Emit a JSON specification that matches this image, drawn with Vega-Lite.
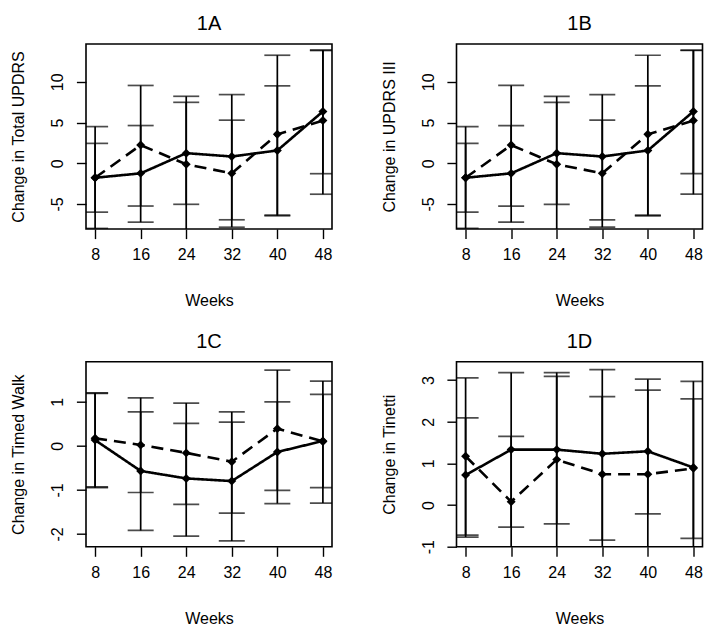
{
  "$schema": "https://vega.github.io/schema/vega-lite/v6.json",
  "background": "white",
  "padding": {"left": 9, "top": 13, "right": 5, "bottom": 5},
  "datasets": {
    "d": [
      {"panel": "A", "week": 8, "group": "solid", "mean": -1.78, "lower": -8.0, "upper": 4.5},
      {"panel": "A", "week": 8, "group": "dashed", "mean": -1.78, "lower": -6.0, "upper": 2.44},
      {"panel": "A", "week": 16, "group": "solid", "mean": -1.24, "lower": -7.23, "upper": 4.63},
      {"panel": "A", "week": 16, "group": "dashed", "mean": 2.23, "lower": -5.25, "upper": 9.55},
      {"panel": "A", "week": 24, "group": "solid", "mean": 1.24, "lower": -5.04, "upper": 7.48},
      {"panel": "A", "week": 24, "group": "dashed", "mean": -0.12, "lower": -8.6, "upper": 8.22},
      {"panel": "A", "week": 32, "group": "solid", "mean": 0.83, "lower": -6.94, "upper": 8.43},
      {"panel": "A", "week": 32, "group": "dashed", "mean": -1.24, "lower": -7.85, "upper": 5.29},
      {"panel": "A", "week": 40, "group": "solid", "mean": 1.57, "lower": -6.36, "upper": 9.5},
      {"panel": "A", "week": 40, "group": "dashed", "mean": 3.55, "lower": -6.45, "upper": 13.26},
      {"panel": "A", "week": 48, "group": "solid", "mean": 6.36, "lower": -1.28, "upper": 13.84},
      {"panel": "A", "week": 48, "group": "dashed", "mean": 5.25, "lower": -3.8, "upper": 13.9},
      {"panel": "B", "week": 8, "group": "solid", "mean": -1.78, "lower": -8.0, "upper": 4.5},
      {"panel": "B", "week": 8, "group": "dashed", "mean": -1.78, "lower": -6.0, "upper": 2.44},
      {"panel": "B", "week": 16, "group": "solid", "mean": -1.24, "lower": -7.23, "upper": 4.63},
      {"panel": "B", "week": 16, "group": "dashed", "mean": 2.23, "lower": -5.25, "upper": 9.55},
      {"panel": "B", "week": 24, "group": "solid", "mean": 1.24, "lower": -5.04, "upper": 7.48},
      {"panel": "B", "week": 24, "group": "dashed", "mean": -0.12, "lower": -8.6, "upper": 8.22},
      {"panel": "B", "week": 32, "group": "solid", "mean": 0.83, "lower": -6.94, "upper": 8.43},
      {"panel": "B", "week": 32, "group": "dashed", "mean": -1.24, "lower": -7.85, "upper": 5.29},
      {"panel": "B", "week": 40, "group": "solid", "mean": 1.57, "lower": -6.36, "upper": 9.5},
      {"panel": "B", "week": 40, "group": "dashed", "mean": 3.55, "lower": -6.45, "upper": 13.26},
      {"panel": "B", "week": 48, "group": "solid", "mean": 6.36, "lower": -1.28, "upper": 13.84},
      {"panel": "B", "week": 48, "group": "dashed", "mean": 5.25, "lower": -3.8, "upper": 13.9},
      {"panel": "C", "week": 8, "group": "solid", "mean": 0.13, "lower": -0.95, "upper": 1.19},
      {"panel": "C", "week": 8, "group": "dashed", "mean": 0.17, "lower": -0.93, "upper": 1.2},
      {"panel": "C", "week": 16, "group": "solid", "mean": -0.57, "lower": -1.92, "upper": 0.77},
      {"panel": "C", "week": 16, "group": "dashed", "mean": 0.02, "lower": -1.06, "upper": 1.09},
      {"panel": "C", "week": 24, "group": "solid", "mean": -0.74, "lower": -2.05, "upper": 0.51},
      {"panel": "C", "week": 24, "group": "dashed", "mean": -0.16, "lower": -1.33, "upper": 0.97},
      {"panel": "C", "week": 32, "group": "solid", "mean": -0.8, "lower": -2.16, "upper": 0.54},
      {"panel": "C", "week": 32, "group": "dashed", "mean": -0.36, "lower": -1.53, "upper": 0.77},
      {"panel": "C", "week": 40, "group": "solid", "mean": -0.14, "lower": -1.31, "upper": 1.0},
      {"panel": "C", "week": 40, "group": "dashed", "mean": 0.39, "lower": -1.01, "upper": 1.72},
      {"panel": "C", "week": 48, "group": "solid", "mean": 0.11, "lower": -1.3, "upper": 1.47},
      {"panel": "C", "week": 48, "group": "dashed", "mean": 0.1, "lower": -0.95, "upper": 1.17},
      {"panel": "D", "week": 8, "group": "solid", "mean": 0.72, "lower": -0.77, "upper": 2.09},
      {"panel": "D", "week": 8, "group": "dashed", "mean": 1.17, "lower": -0.72, "upper": 3.05},
      {"panel": "D", "week": 16, "group": "solid", "mean": 1.33, "lower": -0.53, "upper": 3.18},
      {"panel": "D", "week": 16, "group": "dashed", "mean": 0.08, "lower": -1.49, "upper": 1.65},
      {"panel": "D", "week": 24, "group": "solid", "mean": 1.33, "lower": -0.45, "upper": 3.09},
      {"panel": "D", "week": 24, "group": "dashed", "mean": 1.09, "lower": -1.05, "upper": 3.18},
      {"panel": "D", "week": 32, "group": "solid", "mean": 1.23, "lower": -0.84, "upper": 3.25},
      {"panel": "D", "week": 32, "group": "dashed", "mean": 0.74, "lower": -1.12, "upper": 2.6},
      {"panel": "D", "week": 40, "group": "solid", "mean": 1.29, "lower": -0.21, "upper": 2.76},
      {"panel": "D", "week": 40, "group": "dashed", "mean": 0.74, "lower": -1.54, "upper": 3.02},
      {"panel": "D", "week": 48, "group": "solid", "mean": 0.9, "lower": -0.8, "upper": 2.55},
      {"panel": "D", "week": 48, "group": "dashed", "mean": 0.88, "lower": -1.17, "upper": 2.97}
    ]
  },
  "data": {"name": "d"},
  "columns": 2,
  "bounds": "flush",
  "spacing": {"row": 132.7, "column": 124.5},
  "concat": [
    {
      "width": 246, "height": 185,
      "title": "1A",
      "transform": [{"filter": "datum.panel == 'A'"}],
      "encoding": {"x": {"field": "week", "type": "quantitative", "title": "Weeks", "scale": {"domain": [6.4, 49.6], "nice": false, "zero": false}, "axis": {"values": [8, 16, 24, 32, 40, 48], "labelBaseline": "alphabetic", "labelPadding": 21, "titleBaseline": "alphabetic", "titlePadding": 43}}},
      "layer": [
        {"mark": {"type": "rule", "clip": true, "strokeWidth": 1.7, "color": "black"},
         "encoding": {"y": {"field": "lower", "type": "quantitative", "title": "Change in Total UPDRS", "scale": {"domain": [-8.07, 14.64], "nice": false, "zero": false}, "axis": {"values": [-5, 0, 5, 10]}}, "y2": {"field": "upper"}}},
        {"transform": [{"fold": ["lower", "upper"], "as": ["end", "cap"]}],
         "mark": {"type": "tick", "orient": "horizontal", "size": 26, "thickness": 1.7, "clip": true, "color": "black"},
         "encoding": {"y": {"field": "cap", "type": "quantitative", "title": "Change in Total UPDRS", "scale": {"domain": [-8.07, 14.64], "nice": false, "zero": false}}}},
        {"mark": {"type": "line", "clip": true, "strokeWidth": 2.6, "color": "black"},
         "encoding": {"y": {"field": "mean", "type": "quantitative", "title": "Change in Total UPDRS", "scale": {"domain": [-8.07, 14.64], "nice": false, "zero": false}},
                      "strokeDash": {"field": "group", "type": "nominal", "scale": {"domain": ["solid", "dashed"], "range": [[1, 0], [12, 7]]}, "legend": null}}},
        {"mark": {"type": "point", "shape": "diamond", "filled": true, "size": 80, "opacity": 1, "clip": true, "color": "black"},
         "encoding": {"y": {"field": "mean", "type": "quantitative", "title": "Change in Total UPDRS", "scale": {"domain": [-8.07, 14.64], "nice": false, "zero": false}}}}
      ]
    },
    {
      "width": 246, "height": 185,
      "title": "1B",
      "transform": [{"filter": "datum.panel == 'B'"}],
      "encoding": {"x": {"field": "week", "type": "quantitative", "title": "Weeks", "scale": {"domain": [6.4, 49.6], "nice": false, "zero": false}, "axis": {"values": [8, 16, 24, 32, 40, 48], "labelBaseline": "alphabetic", "labelPadding": 21, "titleBaseline": "alphabetic", "titlePadding": 43}}},
      "layer": [
        {"mark": {"type": "rule", "clip": true, "strokeWidth": 1.7, "color": "black"},
         "encoding": {"y": {"field": "lower", "type": "quantitative", "title": "Change in UPDRS III", "scale": {"domain": [-8.07, 14.64], "nice": false, "zero": false}, "axis": {"values": [-5, 0, 5, 10]}}, "y2": {"field": "upper"}}},
        {"transform": [{"fold": ["lower", "upper"], "as": ["end", "cap"]}],
         "mark": {"type": "tick", "orient": "horizontal", "size": 26, "thickness": 1.7, "clip": true, "color": "black"},
         "encoding": {"y": {"field": "cap", "type": "quantitative", "title": "Change in UPDRS III", "scale": {"domain": [-8.07, 14.64], "nice": false, "zero": false}}}},
        {"mark": {"type": "line", "clip": true, "strokeWidth": 2.6, "color": "black"},
         "encoding": {"y": {"field": "mean", "type": "quantitative", "title": "Change in UPDRS III", "scale": {"domain": [-8.07, 14.64], "nice": false, "zero": false}},
                      "strokeDash": {"field": "group", "type": "nominal", "scale": {"domain": ["solid", "dashed"], "range": [[1, 0], [12, 7]]}, "legend": null}}},
        {"mark": {"type": "point", "shape": "diamond", "filled": true, "size": 80, "opacity": 1, "clip": true, "color": "black"},
         "encoding": {"y": {"field": "mean", "type": "quantitative", "title": "Change in UPDRS III", "scale": {"domain": [-8.07, 14.64], "nice": false, "zero": false}}}}
      ]
    },
    {
      "width": 246, "height": 185,
      "title": "1C",
      "transform": [{"filter": "datum.panel == 'C'"}],
      "encoding": {"x": {"field": "week", "type": "quantitative", "title": "Weeks", "scale": {"domain": [6.4, 49.6], "nice": false, "zero": false}, "axis": {"values": [8, 16, 24, 32, 40, 48], "labelBaseline": "alphabetic", "labelPadding": 21, "titleBaseline": "alphabetic", "titlePadding": 43}}},
      "layer": [
        {"mark": {"type": "rule", "clip": true, "strokeWidth": 1.7, "color": "black"},
         "encoding": {"y": {"field": "lower", "type": "quantitative", "title": "Change in Timed Walk", "scale": {"domain": [-2.29, 1.91], "nice": false, "zero": false}, "axis": {"values": [-2, -1, 0, 1]}}, "y2": {"field": "upper"}}},
        {"transform": [{"fold": ["lower", "upper"], "as": ["end", "cap"]}],
         "mark": {"type": "tick", "orient": "horizontal", "size": 26, "thickness": 1.7, "clip": true, "color": "black"},
         "encoding": {"y": {"field": "cap", "type": "quantitative", "title": "Change in Timed Walk", "scale": {"domain": [-2.29, 1.91], "nice": false, "zero": false}}}},
        {"mark": {"type": "line", "clip": true, "strokeWidth": 2.6, "color": "black"},
         "encoding": {"y": {"field": "mean", "type": "quantitative", "title": "Change in Timed Walk", "scale": {"domain": [-2.29, 1.91], "nice": false, "zero": false}},
                      "strokeDash": {"field": "group", "type": "nominal", "scale": {"domain": ["solid", "dashed"], "range": [[1, 0], [12, 7]]}, "legend": null}}},
        {"mark": {"type": "point", "shape": "diamond", "filled": true, "size": 80, "opacity": 1, "clip": true, "color": "black"},
         "encoding": {"y": {"field": "mean", "type": "quantitative", "title": "Change in Timed Walk", "scale": {"domain": [-2.29, 1.91], "nice": false, "zero": false}}}}
      ]
    },
    {
      "width": 246, "height": 185,
      "title": "1D",
      "transform": [{"filter": "datum.panel == 'D'"}],
      "encoding": {"x": {"field": "week", "type": "quantitative", "title": "Weeks", "scale": {"domain": [6.4, 49.6], "nice": false, "zero": false}, "axis": {"values": [8, 16, 24, 32, 40, 48], "labelBaseline": "alphabetic", "labelPadding": 21, "titleBaseline": "alphabetic", "titlePadding": 43}}},
      "layer": [
        {"mark": {"type": "rule", "clip": true, "strokeWidth": 1.7, "color": "black"},
         "encoding": {"y": {"field": "lower", "type": "quantitative", "title": "Change in Tinetti", "scale": {"domain": [-1.0, 3.44], "nice": false, "zero": false}, "axis": {"values": [-1, 0, 1, 2, 3]}}, "y2": {"field": "upper"}}},
        {"transform": [{"fold": ["lower", "upper"], "as": ["end", "cap"]}],
         "mark": {"type": "tick", "orient": "horizontal", "size": 26, "thickness": 1.7, "clip": true, "color": "black"},
         "encoding": {"y": {"field": "cap", "type": "quantitative", "title": "Change in Tinetti", "scale": {"domain": [-1.0, 3.44], "nice": false, "zero": false}}}},
        {"mark": {"type": "line", "clip": true, "strokeWidth": 2.6, "color": "black"},
         "encoding": {"y": {"field": "mean", "type": "quantitative", "title": "Change in Tinetti", "scale": {"domain": [-1.0, 3.44], "nice": false, "zero": false}},
                      "strokeDash": {"field": "group", "type": "nominal", "scale": {"domain": ["solid", "dashed"], "range": [[1, 0], [12, 7]]}, "legend": null}}},
        {"mark": {"type": "point", "shape": "diamond", "filled": true, "size": 80, "opacity": 1, "clip": true, "color": "black"},
         "encoding": {"y": {"field": "mean", "type": "quantitative", "title": "Change in Tinetti", "scale": {"domain": [-1.0, 3.44], "nice": false, "zero": false}}}}
      ]
    }
  ],
  "config": {
    "font": "Liberation Sans",
    "view": {"stroke": "black", "strokeWidth": 1.6},
    "axis": {
      "domain": false, "grid": false, "tickColor": "black", "tickSize": 9.6, "tickWidth": 1.4,
      "labelColor": "black", "labelFontSize": 16, "labelFont": "Liberation Sans", "labelFlush": false, "labelOverlap": false,
      "labelExpr": "toString(datum.value)",
      "titleFontSize": 16, "titleFont": "Liberation Sans", "titleFontWeight": "normal", "titleColor": "black"
    },
    "axisY": {"labelAngle": -90, "labelAlign": "center", "labelBaseline": "alphabetic", "labelPadding": 13.8, "titleBaseline": "alphabetic", "titlePadding": 26},
    "title": {"fontSize": 20, "fontWeight": "normal", "color": "black", "font": "Liberation Sans", "baseline": "alphabetic", "offset": 10}
  }
}
